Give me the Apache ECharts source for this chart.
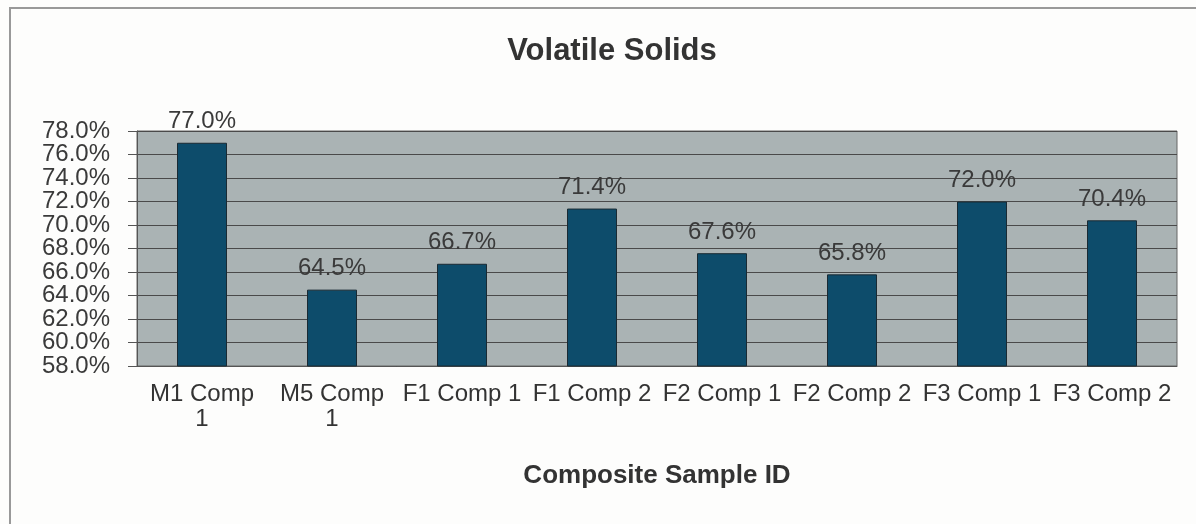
<!DOCTYPE html>
<html>
<head>
<meta charset="utf-8">
<script src="https://cdn.jsdelivr.net/npm/echarts@6/dist/echarts.min.js"></script>
<style>
  html, body { margin: 0; padding: 0; background: #fff; }
  #chart { width: 1196px; height: 524px; }
</style>
</head>
<body>
<div id="chart"></div>
<script>
// sample IDs and volatile solids fraction (%)
const categories = ["M1 Comp 1", "M5 Comp 1", "F1 Comp 1", "F1 Comp 2", "F2 Comp 1", "F2 Comp 2", "F3 Comp 1", "F3 Comp 2"];
const values = [77.0, 64.5, 66.7, 71.4, 67.6, 65.8, 72.0, 70.4];
// Excel wrapped these two labels onto a second line
const wrapped = ["M1 Comp\n1", "M5 Comp\n1"];

const yMin = 58, yMax = 78, yStep = 2;

const chart = echarts.init(document.getElementById("chart"));

const labelFont = { fontFamily: "Liberation Sans", fontSize: 24, color: "#3a3a3a" };

// the tick labels are packed so tightly that echarts drops some of them,
// so split them over two stacked axes: one prints every other label
function yAxisPart(phase) {
  return {
    type: "value",
    min: yMin,
    max: yMax,
    interval: yStep,
    position: "left",
    axisLine: { show: phase === 0, lineStyle: { color: "#555" } },
    axisTick: { show: phase === 0, length: 9, lineStyle: { color: "#555" } },
    splitLine: { show: phase === 0, lineStyle: { color: "#4a4a4a", width: 1 } },
    axisLabel: Object.assign({
      margin: 27,
      showMinLabel: true,
      showMaxLabel: true,
      formatter: v => (Math.round((v - yMin) / yStep) % 2 === phase ? v.toFixed(1) + "%" : "")
    }, labelFont)
  };
}

const option = {
  backgroundColor: "#fdfdfc",
  animation: false,
  title: {
    text: "Volatile Solids",
    left: 607,
    top: 31,
    textAlign: "center",
    textStyle: { fontFamily: "Liberation Sans", fontSize: 31, fontWeight: "bold", color: "#333" }
  },
  graphic: [
    {
      type: "rect",
      shape: { x: 10, y: 8, width: 1200, height: 530 },
      style: { fill: "none", stroke: "#999", lineWidth: 2 },
      silent: true
    }
  ],
  grid: {
    left: 137, right: 19, top: 131, bottom: 158,
    show: true,
    backgroundColor: "#aab3b4",
    borderColor: "#666",
    borderWidth: 1
  },
  xAxis: {
    type: "category",
    data: categories,
    name: "Composite Sample ID",
    nameLocation: "middle",
    nameGap: 97,
    nameTextStyle: { fontFamily: "Liberation Sans", fontSize: 26, fontWeight: "bold", color: "#333" },
    axisLine: { lineStyle: { color: "#555" } },
    axisTick: { show: false },
    axisLabel: {
      interval: 0,
      margin: 16,
      fontFamily: "Liberation Sans",
      fontSize: 24,
      lineHeight: 25,
      color: "#333",
      formatter: (v, i) => (i < wrapped.length ? wrapped[i] : v)
    }
  },
  yAxis: [yAxisPart(0), yAxisPart(1)],
  series: [
    {
      type: "bar",
      data: values,
      barWidth: 50,
      itemStyle: { color: "#0d4c6b", borderColor: "#1a2a33", borderWidth: 1 },
      label: {
        show: true,
        position: "top",
        distance: 9,
        fontFamily: "Liberation Sans",
        fontSize: 24,
        color: "#3a3a3a",
        formatter: p => p.value.toFixed(1) + "%"
      }
    }
  ]
};

chart.setOption(option);
</script>
</body>
</html>
